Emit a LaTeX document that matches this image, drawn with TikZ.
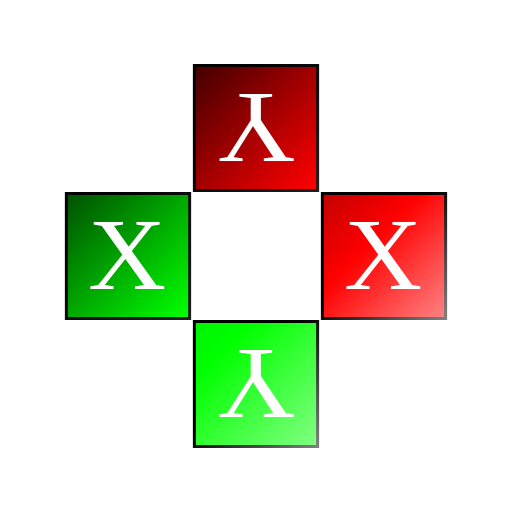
\documentclass[tikz,border=0pt]{standalone}
\usepackage{graphicx}
\usepackage{fontspec}
\setmainfont{Liberation Serif}
\usepackage{tikz}

% shadings, top of the axis ends up top-left after shading angle=45
\pgfdeclareverticalshading{darkredshade}{100bp}{color(0bp)=(red); color(15bp)=(red); color(85bp)=(red!28!black); color(100bp)=(red!28!black)}
\pgfdeclareverticalshading{darkgreenshade}{100bp}{color(0bp)=(green); color(15bp)=(green); color(85bp)=(green!33!black); color(100bp)=(green!33!black)}
\pgfdeclareverticalshading{lightredshade}{100bp}{color(0bp)=(red!50!white); color(15bp)=(red!50!white); color(58bp)=(red); color(85bp)=(red!78!black); color(100bp)=(red!78!black)}
\pgfdeclareverticalshading{lightgreenshade}{100bp}{color(0bp)=(green!50!white); color(15bp)=(green!50!white); color(70bp)=(green); color(85bp)=(green!96!black); color(100bp)=(green!96!black)}
\pgfdeclareverticalshading{darkframe}{100bp}{color(0bp)=(black!88); color(15bp)=(black!88); color(70bp)=(black); color(100bp)=(black)}
\pgfdeclareverticalshading{lightframe}{100bp}{color(0bp)=(black!50); color(15bp)=(black!50); color(55bp)=(black); color(100bp)=(black)}

\newcommand{\tileletter}[1]{\scalebox{1.1}[1.04]{#1}}

\tikzset{
  frame/.style={minimum size=3.15cm, inner sep=0pt, shade, shading=#1, shading angle=45},
  tile/.style={minimum size=3cm, inner sep=0pt, shade, shading=#1, shading angle=45,
    text=white, font=\fontsize{70}{70}\selectfont},
}

\begin{document}
\begin{tikzpicture}[x=0.025cm, y=0.025cm]
\useasboundingbox (0,0) rectangle (512,512);

% frames
\node[frame=darkframe] (topframe) at (256,384) {};
\node[frame=darkframe] (leftframe) at (128,256) {};
\node[frame=lightframe] (rightframe) at (384,256) {};
\node[frame=lightframe] (bottomframe) at (256,128) {};

% tiles
\node[tile=darkredshade] (top) at (topframe.center) {\rotatebox{180}{\tileletter{Y}}};
\node[tile=darkgreenshade] (left) at (leftframe.center) {\tileletter{X}};
\node[tile=lightredshade] (right) at (rightframe.center) {\tileletter{X}};
\node[tile=lightgreenshade] (bottom) at (bottomframe.center) {\rotatebox{180}{\tileletter{Y}}};

\end{tikzpicture}
\end{document}
